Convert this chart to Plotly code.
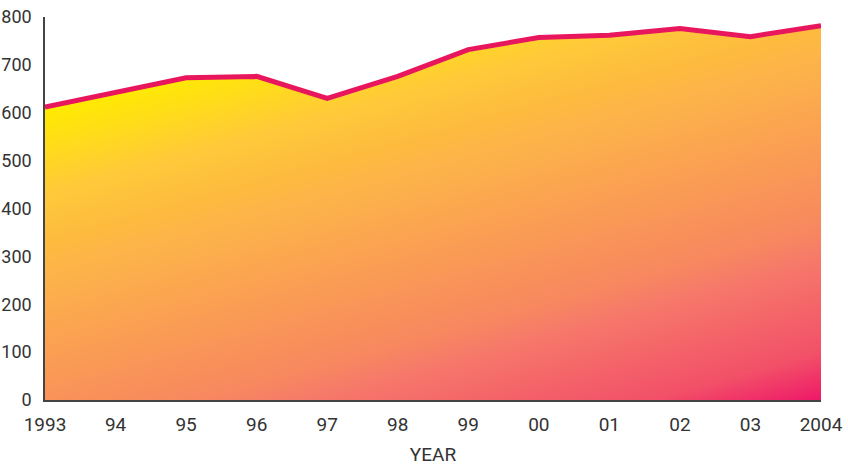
import numpy as np
import plotly.graph_objects as go

years = [1993, 1994, 1995, 1996, 1997, 1998, 1999, 2000, 2001, 2002, 2003, 2004]
tick_labels = ["1993", "94", "95", "96", "97", "98", "99", "00", "01", "02", "03", "2004"]
values = [612, 642, 673, 676, 630, 676, 732, 757, 762, 776, 759, 782]
y_ticks = [0, 100, 200, 300, 400, 500, 600, 700, 800]

# diagonal gradient background (styling only)
gx = np.linspace(1993, 2004, 150)
gy = np.linspace(0, 800, 150)
U, V = np.meshgrid((gx - 1993) / 11, gy / 800)
T = 0.36 * U + 0.64 * (1 - V)
colorscale = [[0, '#FFF200'], [0.154, '#FFEB00'], [0.295, '#FFC93A'], [0.38, '#FDBA3E'],
              [0.42, '#FDB548'], [0.65, '#F9915A'], [0.71, '#F7885F'], [0.765, '#F6786A'],
              [0.92, '#F25068'], [1, '#EE1868']]

fig = go.Figure()
fig.add_trace(go.Heatmap(x=gx, y=gy, z=T, colorscale=colorscale, zmin=0, zmax=1,
                         showscale=False, zsmooth='best', hoverinfo='skip'))
fig.add_trace(go.Scatter(x=years, y=values, mode='lines', line=dict(width=0),
                         hoverinfo='skip', showlegend=False))
fig.add_trace(go.Scatter(x=years, y=[900] * len(years), mode='lines', line=dict(width=0),
                         fill='tonexty', fillcolor='white', hoverinfo='skip', showlegend=False))
fig.add_trace(go.Scatter(x=years, y=values, mode='lines',
                         line=dict(color='#E8175D', width=5), showlegend=False))

font = dict(family="Roboto, sans-serif", size=19, color='#333333')
fig.update_layout(
    width=848, height=466,
    margin=dict(l=45, r=27, t=17, b=66),
    plot_bgcolor='white', paper_bgcolor='white',
    font=font, showlegend=False,
    xaxis=dict(range=[1993, 2004], tickvals=years, ticktext=tick_labels, automargin=False,
               showgrid=False, zeroline=False, showline=True, linecolor='#444444',
               linewidth=1.5, ticks='', ticklabelstandoff=6,
               title=dict(text='YEAR', standoff=15, font=font)),
    yaxis=dict(range=[0, 800], tickvals=y_ticks, showgrid=False, zeroline=False, automargin=False,
               showline=True, linecolor='#444444', linewidth=1.5, ticks='',
               ticklabelstandoff=8, tickfont=dict(size=18)),
)
fig.write_html("out.html", config={"displayModeBar": False},
               post_script="document.body.style.margin='0';")
